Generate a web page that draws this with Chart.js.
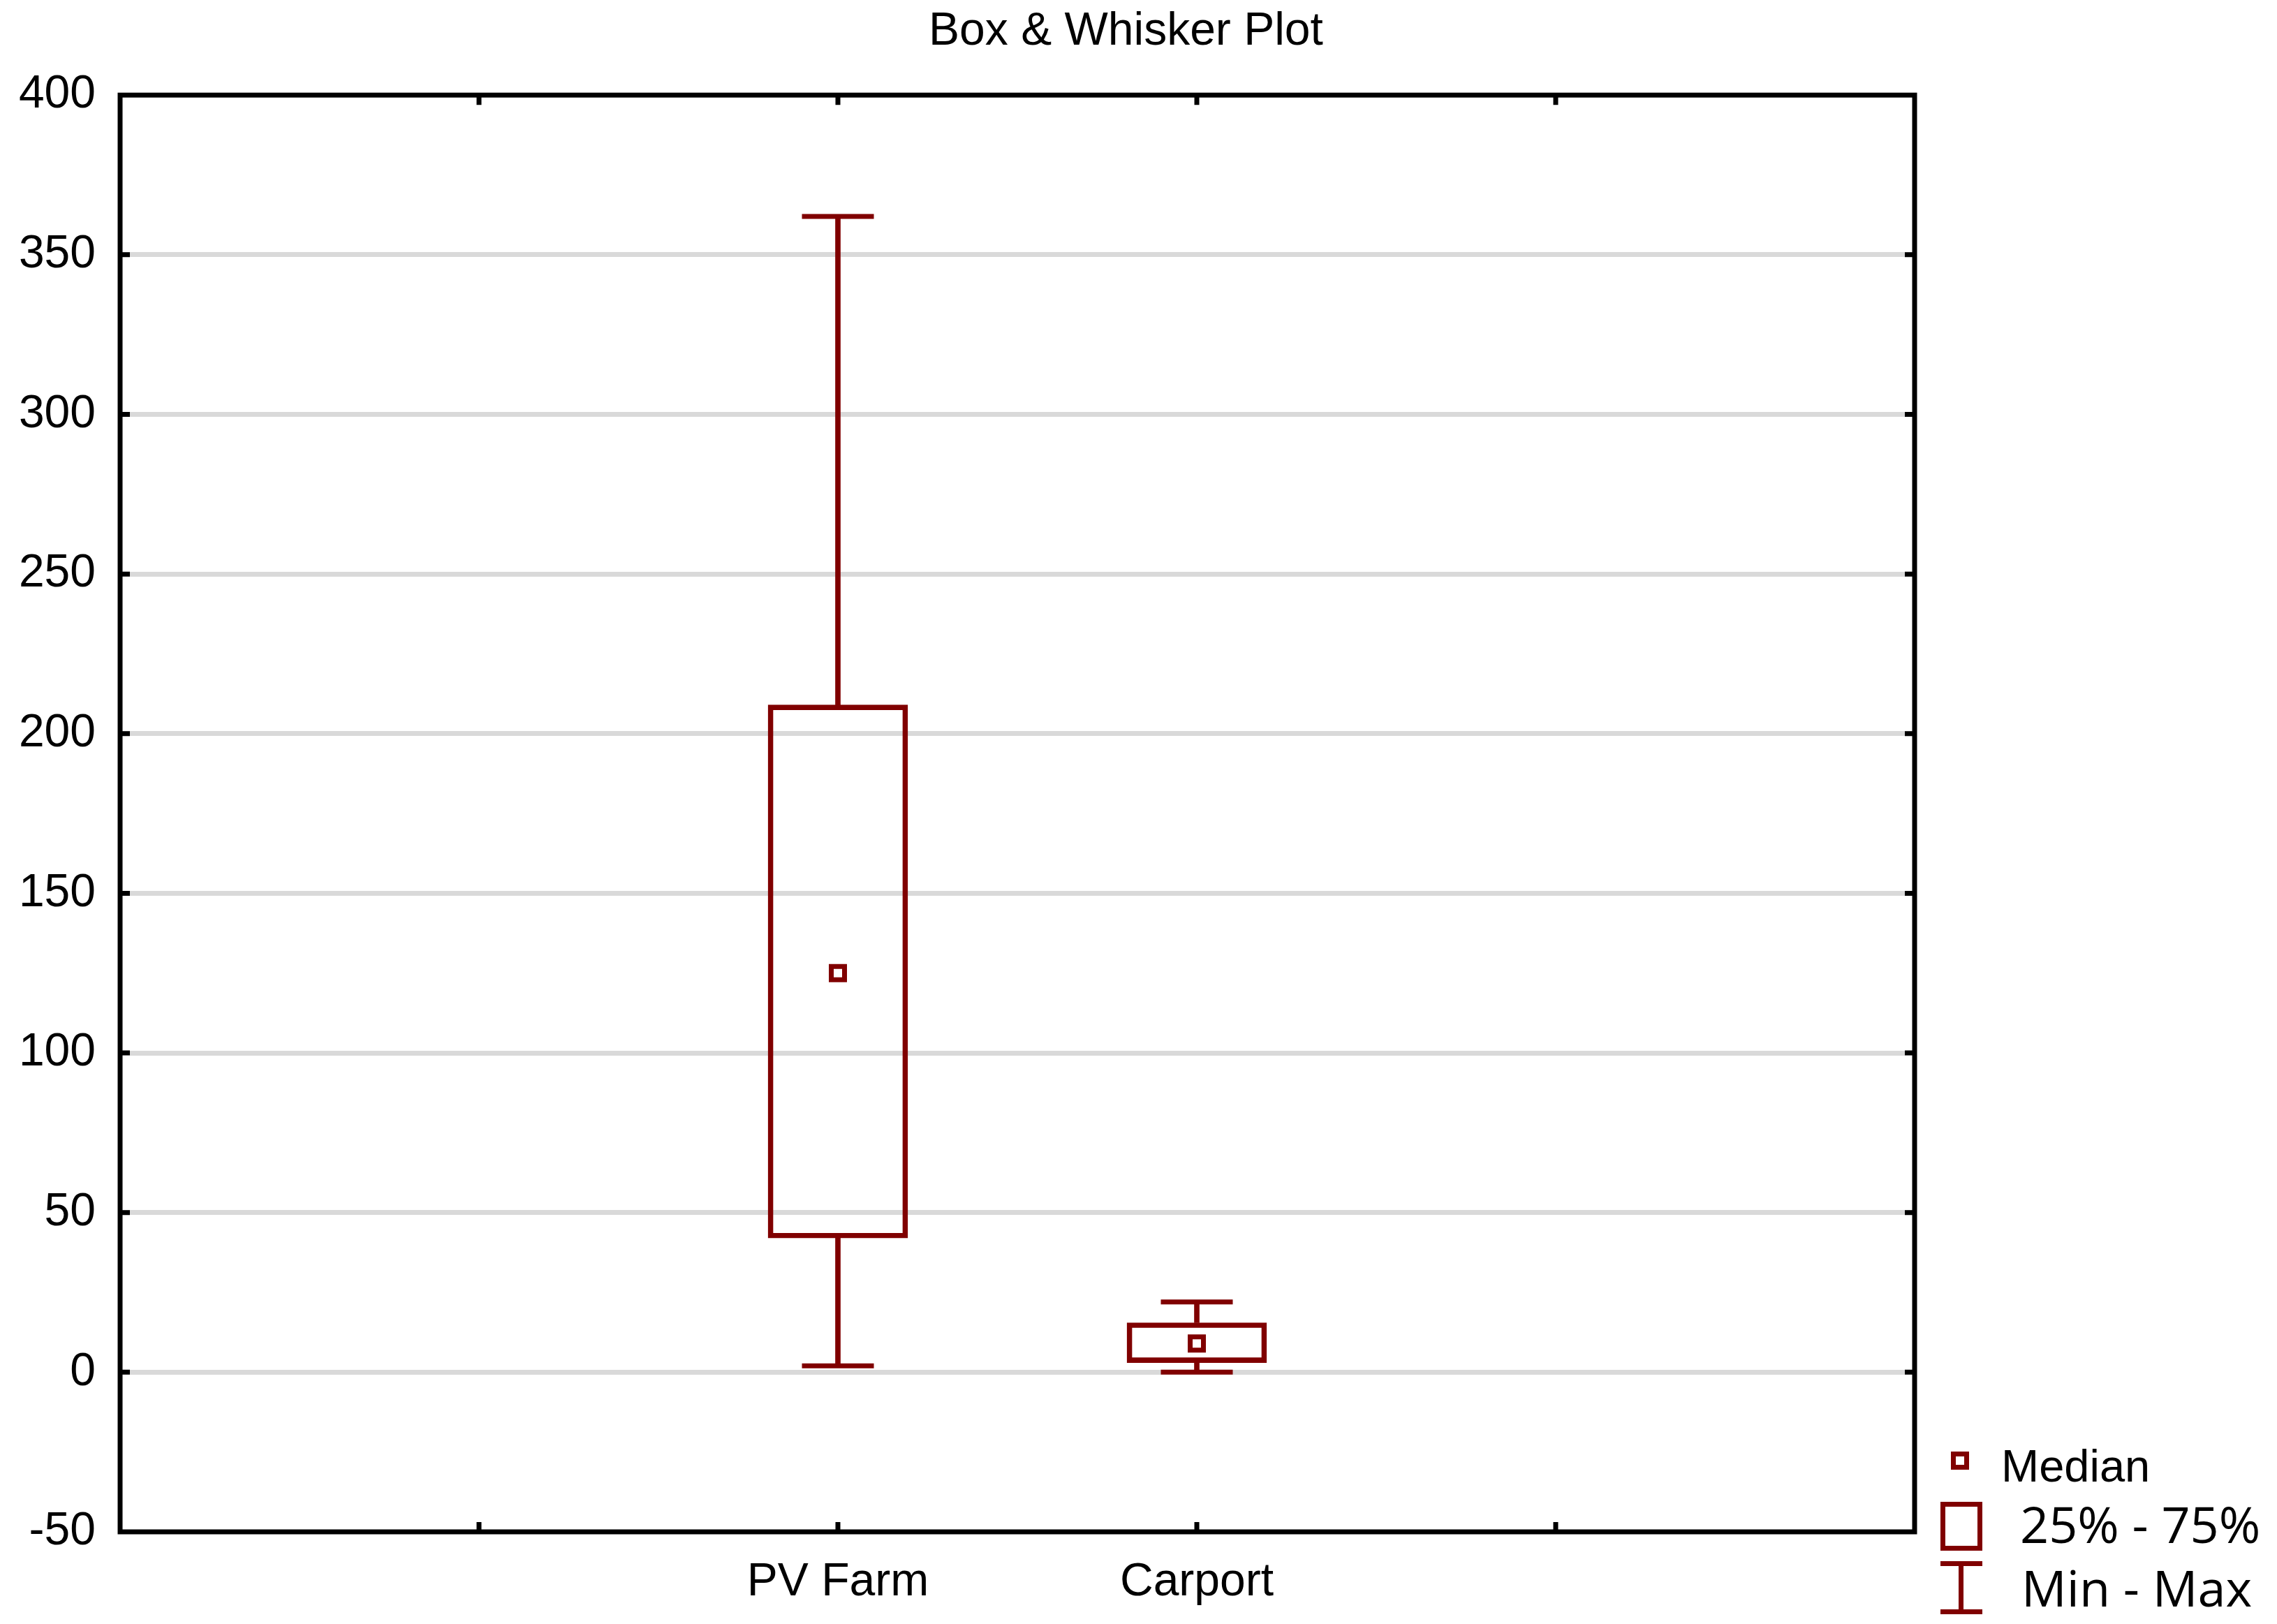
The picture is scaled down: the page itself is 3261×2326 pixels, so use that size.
<!DOCTYPE html>
<html>
<head>
<meta charset="utf-8">
<title>Box & Whisker Plot</title>
<script src="https://cdn.jsdelivr.net/npm/chart.js@4.4.1/dist/chart.umd.min.js"></script>
<style>
  html, body { margin: 0; padding: 0; background: #fff; }
  #wrap { width: 3261px; height: 2326px; }
</style>
</head>
<body>
<div id="wrap"><canvas id="myChart" width="3261" height="2326"></canvas></div>
<script>
(() => {
  'use strict'

  // data
  const categories = ['PV Farm', 'Carport']
  const minVals = [2, 0]
  const q1Vals = [42, 3]
  const medianVals = [125, 9]
  const q3Vals = [209, 15.5]
  const maxVals = [362, 22]
  const yMin = -50
  const yMax = 400
  const yStep = 50
  // x slots: categories sit on slots 2 and 3 of 0..5
  const xLabels = ['', '', 'PV Farm', 'Carport', '', '']

  const red = '#800000'
  const pos = i => i + 2

  // frame + inward ticks, like the original
  const framePlugin = {
    id: 'frame',
    afterDatasetsDraw(chart) {
      const { ctx, chartArea: a, scales } = chart
      ctx.save()
      ctx.strokeStyle = '#000'
      ctx.lineWidth = 7
      ctx.strokeRect(a.left, a.top, a.right - a.left, a.bottom - a.top)
      ctx.beginPath()
      scales.y.ticks.forEach(t => {
        if (t.value <= yMin || t.value >= yMax) return
        const y = scales.y.getPixelForValue(t.value)
        ctx.moveTo(a.left, y); ctx.lineTo(a.left + 14, y)
        ctx.moveTo(a.right, y); ctx.lineTo(a.right - 14, y)
      })
      scales.x.ticks.forEach(t => {
        if (t.value <= 0 || t.value >= xLabels.length - 1) return
        const x = scales.x.getPixelForValue(t.value)
        ctx.moveTo(x, a.bottom); ctx.lineTo(x, a.bottom - 14)
        ctx.moveTo(x, a.top); ctx.lineTo(x, a.top + 14)
      })
      ctx.stroke()
      ctx.restore()
    }
  }

  // legend at bottom right
  const legendPlugin = {
    id: 'bwLegend',
    afterDraw(chart) {
      const ctx = chart.ctx
      ctx.save()
      ctx.strokeStyle = red
      ctx.fillStyle = '#000'
      ctx.lineWidth = 7
      // median marker
      ctx.strokeRect(2797.5, 2082.5, 19, 19)
      ctx.font = '65px "Liberation Sans", Arial, sans-serif'
      ctx.textBaseline = 'alphabetic'
      ctx.fillText('Median', 2866, 2122)
      // box
      ctx.strokeRect(2782.5, 2154.5, 53, 63)
      ctx.font = '72px "Open Sans", sans-serif'
      ctx.fillText('25% - 75%', 2893, 2210)
      // whisker
      ctx.beginPath()
      ctx.moveTo(2779, 2239.5); ctx.lineTo(2839, 2239.5)
      ctx.moveTo(2779, 2308.5); ctx.lineTo(2839, 2308.5)
      ctx.moveTo(2808.5, 2239.5); ctx.lineTo(2808.5, 2308.5)
      ctx.stroke()
      ctx.fillText('Min - Max', 2895, 2301)
      ctx.restore()
    }
  }

  Chart.defaults.font.family = '"Liberation Sans", Arial, sans-serif'
  Chart.defaults.color = '#000'

  const ctx = document.getElementById('myChart')
  // eslint-disable-next-line no-unused-vars
  const myChart = new Chart(ctx, {
    type: 'bar',
    data: {
      datasets: [
        {
          type: 'scatter',
          label: 'Median',
          data: categories.map((c, i) => ({ x: pos(i), y: medianVals[i] })),
          pointStyle: 'rect',
          pointRadius: 13.4,
          pointHoverRadius: 13.4,
          borderWidth: 7,
          borderColor: red,
          backgroundColor: '#fff',
          order: 0
        },
        {
          label: '25% - 75%',
          data: categories.map((c, i) => ({ x: pos(i), y: [q1Vals[i], q3Vals[i]] })),
          backgroundColor: 'rgba(0,0,0,0)',
          borderColor: red,
          borderWidth: 7,
          borderSkipped: false,
          barThickness: 200,
          grouped: false,
          order: 1
        },
        {
          label: 'lower whisker',
          data: categories.map((c, i) => ({ x: pos(i), y: [minVals[i], q1Vals[i]] })),
          backgroundColor: red,
          borderWidth: 0,
          barThickness: 7,
          grouped: false,
          order: 2
        },
        {
          label: 'upper whisker',
          data: categories.map((c, i) => ({ x: pos(i), y: [q3Vals[i], maxVals[i]] })),
          backgroundColor: red,
          borderWidth: 0,
          barThickness: 7,
          grouped: false,
          order: 2
        },
        {
          type: 'scatter',
          label: 'Min - Max',
          data: categories.flatMap((c, i) => [
            { x: pos(i), y: minVals[i] },
            { x: pos(i), y: maxVals[i] }
          ]),
          pointStyle: 'line',
          pointRadius: 51.5,
          pointHoverRadius: 51.5,
          borderWidth: 7,
          borderColor: red,
          order: 2
        }
      ]
    },
    options: {
      responsive: false,
      animation: false,
      events: [],
      layout: { padding: { left: 0, right: 36, top: 0, bottom: 0 } },
      plugins: {
        legend: { display: false },
        tooltip: { enabled: false },
        title: {
          display: true,
          text: 'Box & Whisker Plot',
          color: '#000',
          font: { size: 66, weight: 'normal' },
          padding: { top: 6, bottom: 51 }
        }
      },
      scales: {
        x: {
          type: 'linear',
          min: 0,
          max: xLabels.length - 1,
          offset: false,
          grid: { display: false, drawTicks: false },
          border: { display: false },
          ticks: {
            stepSize: 1,
            autoSkip: false,
            maxRotation: 0,
            padding: 33,
            font: { size: 66 },
            color: '#000',
            callback: v => xLabels[v] || ''
          },
          afterFit: s => { s.height = 132 }
        },
        y: {
          min: yMin,
          max: yMax,
          grid: {
            drawTicks: false,
            lineWidth: 7,
            color: c => (c.tick && (c.tick.value <= yMin || c.tick.value >= yMax)) ? 'rgba(0,0,0,0)' : '#d9d9d9'
          },
          border: { display: false },
          ticks: {
            stepSize: yStep,
            padding: 35,
            font: { size: 66 },
            color: '#000'
          },
          afterFit: s => { s.width = 172 }
        },
        y2: {
          position: 'right',
          min: yMin,
          max: yMax,
          grid: { display: false, drawTicks: false },
          border: { display: false },
          ticks: { display: false },
          afterFit: s => { s.width = 483 }
        }
      }
    },
    plugins: [framePlugin, legendPlugin]
  })
})()
</script>
</body>
</html>
